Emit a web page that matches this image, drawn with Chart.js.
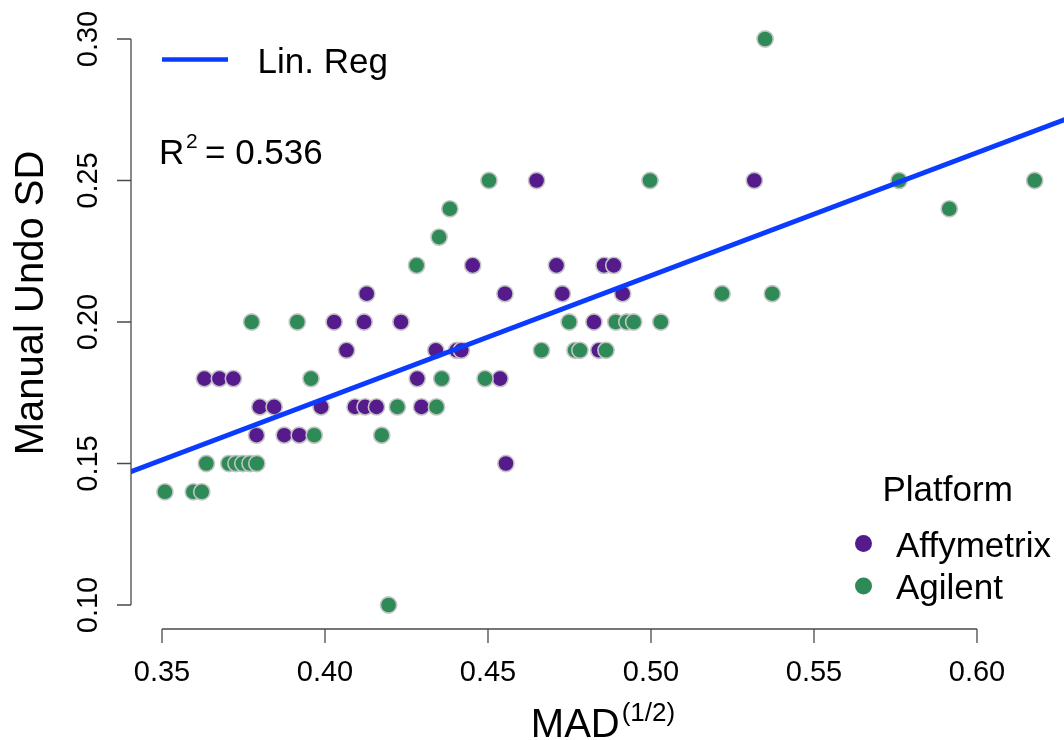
<!DOCTYPE html>
<html>
<head>
<meta charset="utf-8">
<script src="https://cdn.jsdelivr.net/npm/chart.js@4.4.0/dist/chart.umd.min.js"></script>
<style>
html,body{margin:0;padding:0;background:#ffffff;}
canvas{display:block;}
</style>
</head>
<body>
<canvas id="chart" width="1064" height="740"></canvas>
<script>
// ---- data ----
const xTicks = [0.35, 0.40, 0.45, 0.50, 0.55, 0.60];
const yTicks = [0.10, 0.15, 0.20, 0.25, 0.30];
const xTickLabels = ['0.35', '0.40', '0.45', '0.50', '0.55', '0.60'];
const yTickLabels = ['0.10', '0.15', '0.20', '0.25', '0.30'];

const affyX = [0.4649, 0.5317,
  0.4453, 0.4710, 0.4856, 0.4886,
  0.4128, 0.4552, 0.4728, 0.4913,
  0.4028, 0.4120, 0.4233, 0.4825,
  0.4066, 0.4340, 0.4404, 0.4418, 0.4840,
  0.3630, 0.3676, 0.3719, 0.4283, 0.4537,
  0.3800, 0.3844, 0.3988, 0.4092, 0.4123, 0.4158, 0.4296,
  0.3790, 0.3875, 0.3921,
  0.4555];
const affyY = [0.25, 0.25,
  0.22, 0.22, 0.22, 0.22,
  0.21, 0.21, 0.21, 0.21,
  0.20, 0.20, 0.20, 0.20,
  0.19, 0.19, 0.19, 0.19, 0.19,
  0.18, 0.18, 0.18, 0.18, 0.18,
  0.17, 0.17, 0.17, 0.17, 0.17, 0.17, 0.17,
  0.16, 0.16, 0.16,
  0.15];

const agilX = [0.5350,
  0.4503, 0.4997, 0.5761, 0.6177,
  0.4383, 0.5915,
  0.4350,
  0.4281,
  0.5218, 0.5372,
  0.3775, 0.3915, 0.4749, 0.4892, 0.4926, 0.4947, 0.5030,
  0.4664, 0.4767, 0.4782, 0.4862,
  0.3957, 0.4358, 0.4491,
  0.4222, 0.4342,
  0.3967, 0.4174,
  0.3636, 0.3705, 0.3727, 0.3748, 0.3770, 0.3791,
  0.3509, 0.3596, 0.3622,
  0.4195];
const agilY = [0.30,
  0.25, 0.25, 0.25, 0.25,
  0.24, 0.24,
  0.23,
  0.22,
  0.21, 0.21,
  0.20, 0.20, 0.20, 0.20, 0.20, 0.20, 0.20,
  0.19, 0.19, 0.19, 0.19,
  0.18, 0.18, 0.18,
  0.17, 0.17,
  0.16, 0.16,
  0.15, 0.15, 0.15, 0.15, 0.15, 0.15,
  0.14, 0.14, 0.14,
  0.10];

// regression line endpoints
const regX = [0.33, 0.64];
const regY = [0.1426, 0.2772];
const r2Value = '0.536';

const seriesNames = ['Affymetrix', 'Agilent'];
const seriesColors = ['#551A8B', '#2E8B57'];
const lineColor = '#0b3bff';

const FONT = '"Liberation Sans", Arial, Helvetica, sans-serif';

function pairs(xs, ys) { return xs.map((x, i) => ({x: x, y: ys[i]})); }

const rAxesPlugin = {
  id: 'rAxes',
  afterDraw(chart) {
    const ctx = chart.ctx;
    const xs = chart.scales.x, ys = chart.scales.y;
    const ax = chart.chartArea.left;
    const ay = chart.chartArea.bottom;
    ctx.save();
    // axis lines + ticks
    ctx.strokeStyle = '#4a4a4a';
    ctx.lineWidth = 1.3;
    ctx.beginPath();
    ctx.moveTo(ax, ys.getPixelForValue(yTicks[0]));
    ctx.lineTo(ax, ys.getPixelForValue(yTicks[yTicks.length - 1]));
    yTicks.forEach(v => { const p = ys.getPixelForValue(v); ctx.moveTo(ax, p); ctx.lineTo(ax - 14, p); });
    ctx.moveTo(xs.getPixelForValue(xTicks[0]), ay);
    ctx.lineTo(xs.getPixelForValue(xTicks[xTicks.length - 1]), ay);
    xTicks.forEach(v => { const p = xs.getPixelForValue(v); ctx.moveTo(p, ay); ctx.lineTo(p, ay + 14); });
    ctx.stroke();

    ctx.fillStyle = '#000';
    // x tick labels
    ctx.font = '29px ' + FONT;
    ctx.textAlign = 'center';
    ctx.textBaseline = 'alphabetic';
    xTicks.forEach((v, i) => { ctx.fillText(xTickLabels[i], xs.getPixelForValue(v), ay + 52); });
    // y tick labels (rotated)
    yTicks.forEach((v, i) => {
      ctx.save();
      ctx.translate(ax - 34, ys.getPixelForValue(v));
      ctx.rotate(-Math.PI / 2);
      ctx.fillText(yTickLabels[i], 0, 0);
      ctx.restore();
    });
    // y title
    ctx.font = '40px ' + FONT;
    ctx.save();
    ctx.translate(43, 303);
    ctx.rotate(-Math.PI / 2);
    ctx.fillText('Manual Undo SD', 0, 0);
    ctx.restore();
    // x title with superscript
    ctx.textAlign = 'left';
    ctx.font = '40px ' + FONT;
    const wM = ctx.measureText('MAD').width;
    ctx.font = '26px ' + FONT;
    const wS = ctx.measureText('(1/2)').width;
    const cx = 603;
    const sx = cx - (wM + 2 + wS) / 2;
    ctx.font = '40px ' + FONT;
    ctx.fillText('MAD', sx, 737);
    ctx.font = '26px ' + FONT;
    ctx.fillText('(1/2)', sx + wM + 2, 721);

    // line legend (top-left)
    ctx.strokeStyle = lineColor;
    ctx.lineWidth = 4.5;
    ctx.beginPath();
    ctx.moveTo(162, 59.5);
    ctx.lineTo(228, 59.5);
    ctx.stroke();
    ctx.font = '35px ' + FONT;
    ctx.fillText('Lin. Reg', 257.5, 72.5);
    // R^2
    ctx.fillText('R', 159, 164);
    ctx.font = '21px ' + FONT;
    ctx.fillText('2', 186, 148);
    ctx.font = '35px ' + FONT;
    ctx.fillText('= ' + r2Value, 205, 164);

    // platform legend
    ctx.font = '35px ' + FONT;
    ctx.fillText('Platform', 882.5, 501);
    seriesNames.forEach((name, i) => {
      const yy = 543.5 + i * 42.5;
      ctx.fillStyle = seriesColors[i];
      ctx.beginPath();
      ctx.arc(863.5, yy, 8.5, 0, Math.PI * 2);
      ctx.fill();
      ctx.fillStyle = '#000';
      ctx.fillText(name, 896, yy + 13);
    });
    ctx.restore();
  }
};

new Chart(document.getElementById('chart'), {
  type: 'scatter',
  data: {
    datasets: [
      {
        type: 'line',
        label: 'Lin. Reg',
        data: pairs(regX, regY),
        borderColor: lineColor,
        borderWidth: 5,
        pointRadius: 0,
        fill: false,
        tension: 0
      },
      {
        label: seriesNames[1],
        data: pairs(agilX, agilY),
        backgroundColor: seriesColors[1],
        borderColor: '#c4c4c4',
        borderWidth: 1.6,
        pointRadius: 8.1
      },
      {
        label: seriesNames[0],
        data: pairs(affyX, affyY),
        backgroundColor: seriesColors[0],
        borderColor: '#c4c4c4',
        borderWidth: 1.6,
        pointRadius: 8.1
      }
    ]
  },
  options: {
    responsive: false,
    animation: false,
    devicePixelRatio: 1,
    layout: { autoPadding: false, padding: { left: 131, right: 0, top: 16, bottom: 111 } },
    plugins: { legend: { display: false }, tooltip: { enabled: false } },
    scales: {
      x: { type: 'linear', display: false, min: 0.340491, max: 0.626691 },
      y: { type: 'linear', display: false, min: 0.09152, max: 0.30813 }
    }
  },
  plugins: [rAxesPlugin]
});
</script>
</body>
</html>
